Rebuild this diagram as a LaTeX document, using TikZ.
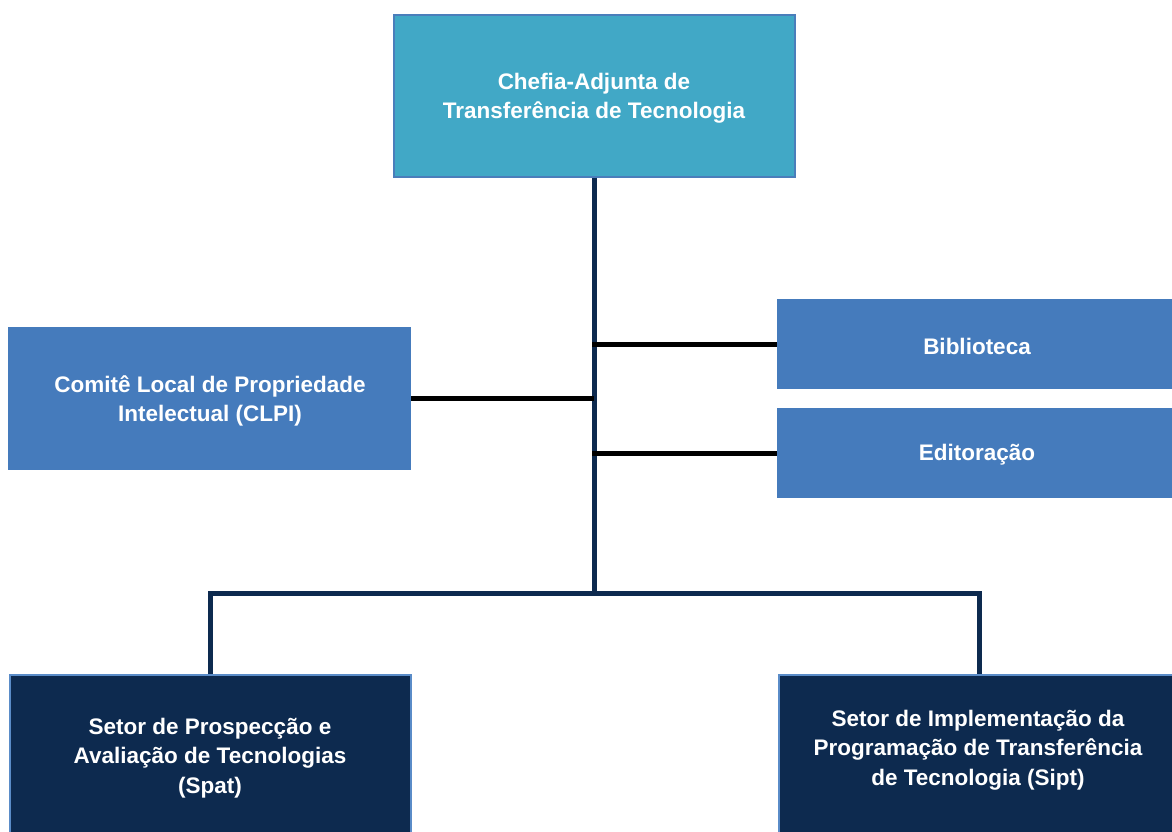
\documentclass[tikz,border=0pt]{standalone}
\usepackage{fontspec}
\setmainfont{Liberation Sans}
\definecolor{teal}{RGB}{65,168,198}
\definecolor{midblue}{RGB}{69,123,188}
\definecolor{navy}{RGB}{13,42,79}
\definecolor{edgeblue}{RGB}{74,126,187}
\definecolor{lightedge}{RGB}{90,140,200}
\tikzset{
  box/.style={rectangle, inner sep=0pt},
  lbl/.style={inner sep=0pt, align=center, text=white,
    font=\fontsize{22.5}{29.5}\selectfont\bfseries},
  trunk/.style={draw=navy, line width=5pt},
  branch/.style={draw=black, line width=5pt},
}
\begin{document}
\begin{tikzpicture}[x=1pt,y=-1pt]
\useasboundingbox (0,0) rectangle (1172,832);
\clip (0,0) rectangle (1172,832);
\fill[white] (0,0) rectangle (1172,832);
% boxes
\node[box, fill=teal, draw=edgeblue, line width=2pt, minimum width=401pt, minimum height=161pt]
  (top) at (594,96) {};
\node[lbl] (topl) at (594,98) {Chefia-Adjunta de\\Transferência de Tecnologia};
\node[box, fill=midblue, minimum width=403pt, minimum height=143pt]
  (clpi) at (209.5,398.5) {};
\node[lbl] (clpil) at (210,401) {Comitê Local de Propriedade\\Intelectual (CLPI)};
\node[box, fill=midblue, minimum width=400pt, minimum height=90pt]
  (bib) at (977,344) {};
\node[lbl] (bibl) at (977,346) {Biblioteca};
\node[box, fill=midblue, minimum width=400pt, minimum height=90pt]
  (edit) at (977,453) {};
\node[lbl] (editl) at (977,455) {Editoração};
\node[box, fill=navy, draw=lightedge, line width=2pt, minimum width=401pt, minimum height=180pt]
  (bl) at (210,765) {};
\node[lbl] (bll) at (210,758) {Setor de Prospecção e\\Avaliação de Tecnologias\\(Spat)};
\node[box, fill=navy, draw=lightedge, line width=2pt, minimum width=400pt, minimum height=180pt]
  (br) at (979,765) {};
\node[lbl] (brl) at (978,750) {Setor de Implementação da\\Programação de Transferência\\de Tecnologia (Sipt)};
% connectors
\coordinate (j) at (594,593);
\draw[trunk] (top.south) -- (j);
\draw[trunk] (bl.north) |- (j) -| (br.north);
\draw[branch] (clpi.east) -- (clpi.east -| top.south);
\draw[branch] (bib.west) -- ([xshift=-2.5pt]bib.west -| top.south);
\draw[branch] (edit.west) -- ([xshift=-2.5pt]edit.west -| top.south);
\end{tikzpicture}
\end{document}
